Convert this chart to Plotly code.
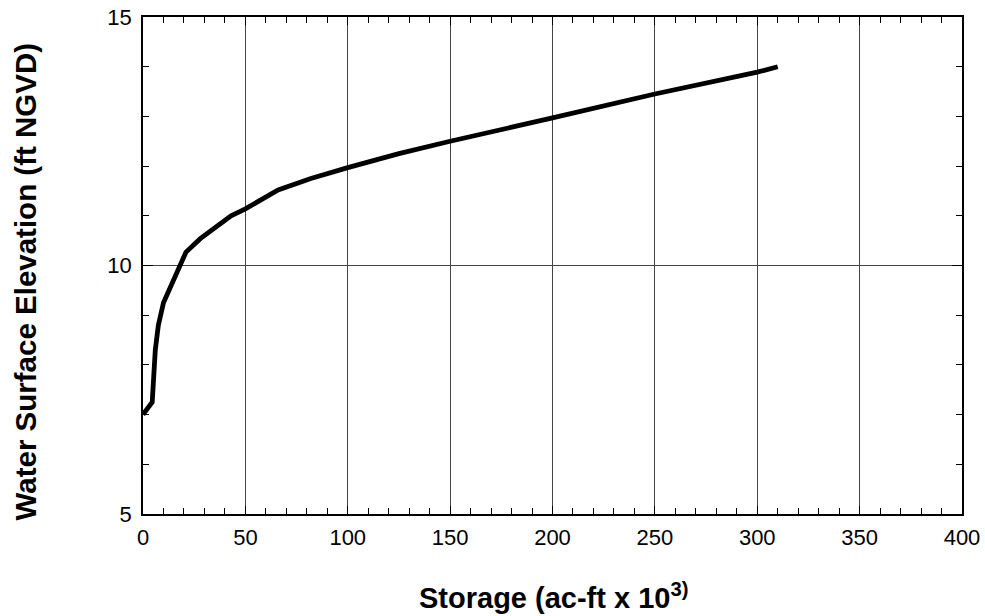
import plotly.graph_objects as go

storage = [0, 4.5, 6, 7.5, 10, 21, 28, 43, 50, 66, 82, 100, 125, 150, 200, 250, 300, 310]
elevation = [7.0, 7.25, 8.3, 8.8, 9.25, 10.27, 10.54, 11.0, 11.14, 11.52, 11.75, 11.97, 12.25, 12.50, 12.97, 13.45, 13.89, 14.0]

x_ticks = [0, 50, 100, 150, 200, 250, 300, 350, 400]
y_ticks = [5, 10, 15]

x_title = "<b>Storage (ac-ft x 10<sup>3)</sup></b>"
y_title = "<b>Water Surface Elevation (ft NGVD)</b>"

FONT = "Liberation Sans, Arial, sans-serif"

fig = go.Figure()
fig.add_trace(go.Scatter(x=storage, y=elevation, mode="lines",
                         line=dict(color="black", width=4.8), showlegend=False))

fig.update_layout(
    width=985, height=616,
    margin=dict(l=142.5, r=23, t=16.5, b=102),
    paper_bgcolor="white", plot_bgcolor="white",
    font=dict(family=FONT, size=22, color="black"),
)
fig.update_xaxes(
    range=[0, 400], tickvals=x_ticks, ticks="inside", ticklen=8, tickcolor="black",
    showline=True, linecolor="black", linewidth=1.5, mirror="ticks",
    showgrid=True, gridcolor="#444", gridwidth=1, zeroline=False,
    minor=dict(dtick=10, ticks="inside", ticklen=6, tickcolor="black", showgrid=False),
    tickfont=dict(size=22), automargin=False, ticklabelstandoff=3,
    ticklabeloverflow="allow",
)
fig.update_yaxes(
    range=[5, 15], tickvals=y_ticks, ticks="inside", ticklen=10, tickcolor="black",
    showline=True, linecolor="black", linewidth=1.5, mirror="ticks",
    showgrid=True, gridcolor="#444", gridwidth=1, zeroline=False,
    minor=dict(dtick=1, ticks="inside", ticklen=6, tickcolor="black", showgrid=False),
    tickfont=dict(size=22), automargin=False, ticklabelstandoff=5,
    ticklabeloverflow="allow",
)
fig.add_annotation(text=x_title, xref="paper", yref="paper", x=0.501, y=-0.165,
                   xanchor="center", yanchor="middle", showarrow=False,
                   font=dict(size=29, family=FONT))
fig.add_annotation(text=y_title, xref="paper", yref="paper", x=-0.144, y=0.468,
                   xanchor="center", yanchor="middle", showarrow=False, textangle=-90,
                   font=dict(size=29.5, family=FONT))

fig.write_html(
    "out.html",
    config={"displayModeBar": False},
    post_script="document.body.style.margin='0';document.body.style.overflow='hidden';",
)
